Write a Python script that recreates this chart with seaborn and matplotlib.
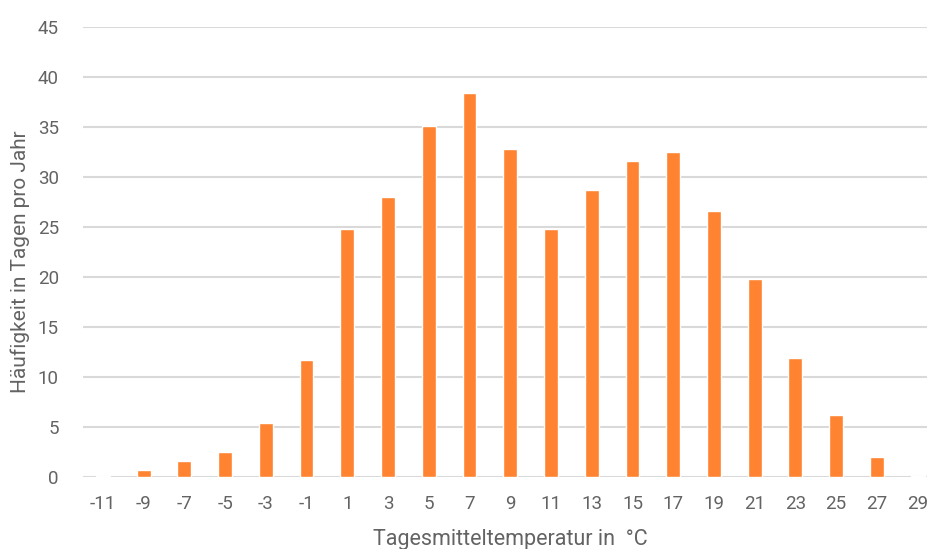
import matplotlib
matplotlib.use("Agg")
import matplotlib.pyplot as plt
import seaborn as sns
import pandas as pd

temperatures = [-11, -9, -7, -5, -3, -1, 1, 3, 5, 7, 9, 11, 13, 15, 17, 19, 21, 23, 25, 27, 29]
days_per_year = [0.1, 0.7, 1.6, 2.5, 5.4, 11.7, 24.8, 28.0, 35.1, 38.4, 32.8, 24.8,
                 28.7, 31.6, 32.5, 26.6, 19.8, 11.9, 6.2, 2.0, 0.1]
y_ticks = [0, 5, 10, 15, 20, 25, 30, 35, 40, 45]

sns.set_theme(style="white")
plt.rcParams["font.family"] = ["Roboto", "DejaVu Sans"]

df = pd.DataFrame({"temp": [str(t) for t in temperatures], "days": days_per_year})

fig = plt.figure(figsize=(9.27, 5.49), dpi=100)
ax = fig.add_axes([82.5 / 927, 1 - 477 / 549, 855.5 / 927, 450 / 549])
ax.set_axisbelow(True)

sns.barplot(data=df, x="temp", y="days", order=df["temp"].tolist(),
            color="#FF8330", saturation=1, width=0.34, ax=ax, zorder=3)

ax.set_ylim(0, 45)
ax.set_xlim(-0.5, len(temperatures) - 0.5)
ax.set_yticks(y_ticks)
ax.yaxis.grid(True, color="#d9d9d9", linewidth=1.5)
ax.xaxis.grid(False)
for s in ax.spines.values():
    s.set_visible(False)

tick_color = "#636363"
ax.tick_params(axis="both", length=0, labelsize=13.5, colors=tick_color)
ax.tick_params(axis="y", pad=17)
ax.tick_params(axis="x", pad=13)

ax.set_xlabel("Tagesmitteltemperatur in  °C", fontsize=15.5, color=tick_color,
              va="center")
ax.xaxis.set_label_coords((510 - 82.5) / 855.5, -(539 - 477) / 450)
ax.set_ylabel("Häufigkeit in Tagen pro Jahr", fontsize=15, color=tick_color,
              va="center")
ax.yaxis.set_label_coords(-(82.5 - 20) / 855.5, (477 - 262) / 450)

fig.savefig("out.png", dpi=100)
